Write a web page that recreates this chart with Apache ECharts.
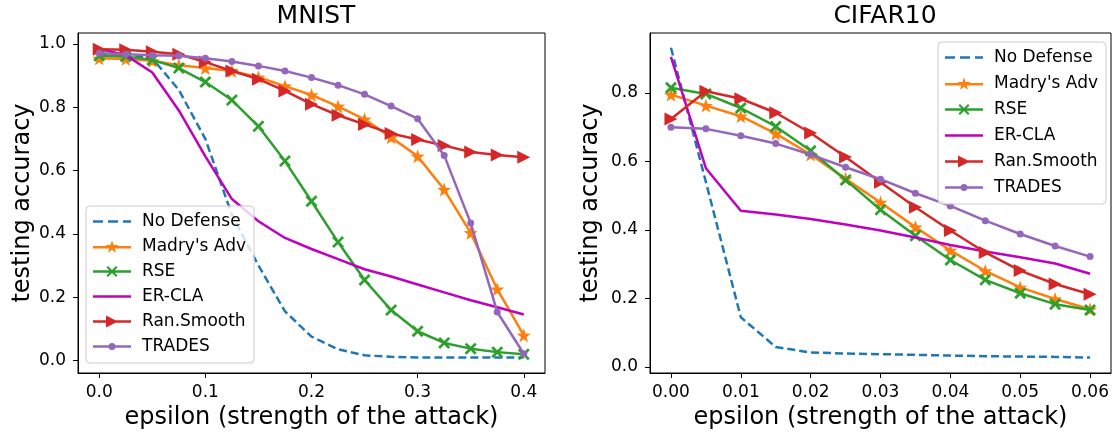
<!DOCTYPE html>
<html><head><meta charset="utf-8">
<script src="https://cdn.jsdelivr.net/npm/echarts@6/dist/echarts.min.js"></script>
<style>html,body{margin:0;padding:0;background:#fff}#c{width:1119px;height:438px}</style>
</head><body><div id="c"></div>
<script>
// ---- data ----
const seriesNames = ["No Defense", "Madry's Adv", "RSE", "ER-CLA", "Ran.Smooth", "TRADES"];
const mnistEps = [0, 0.025, 0.05, 0.075, 0.1, 0.125, 0.15, 0.175, 0.2, 0.225, 0.25, 0.275, 0.3, 0.325, 0.35, 0.375, 0.4];
const mnistNoDefense = [0.97, 0.965, 0.955, 0.855, 0.70, 0.46, 0.30, 0.155, 0.075, 0.035, 0.016, 0.011, 0.009, 0.009, 0.009, 0.009, 0.009];
const mnistMadry = [0.955, 0.953, 0.947, 0.933, 0.924, 0.915, 0.895, 0.867, 0.839, 0.803, 0.762, 0.705, 0.645, 0.54, 0.403, 0.225, 0.079];
const mnistRSE = [0.963, 0.961, 0.95, 0.924, 0.88, 0.823, 0.74, 0.63, 0.503, 0.374, 0.254, 0.159, 0.092, 0.055, 0.037, 0.026, 0.019];
const mnistERCLA = [0.985, 0.965, 0.91, 0.79, 0.645, 0.51, 0.44, 0.387, 0.352, 0.32, 0.288, 0.265, 0.24, 0.215, 0.19, 0.168, 0.145];
const mnistRanSmooth = [0.984, 0.982, 0.976, 0.968, 0.943, 0.915, 0.889, 0.852, 0.81, 0.775, 0.746, 0.717, 0.698, 0.679, 0.659, 0.649, 0.642];
const mnistTRADES = [0.971, 0.968, 0.965, 0.963, 0.955, 0.945, 0.931, 0.915, 0.894, 0.87, 0.841, 0.804, 0.764, 0.648, 0.434, 0.153, 0.021];

const cifarEps = [0, 0.005, 0.01, 0.015, 0.02, 0.025, 0.03, 0.035, 0.04, 0.045, 0.05, 0.055, 0.06];
const cifarNoDefense = [0.932, 0.54, 0.145, 0.058, 0.042, 0.039, 0.037, 0.035, 0.033, 0.031, 0.030, 0.029, 0.027];
const cifarMadry = [0.795, 0.763, 0.732, 0.681, 0.62, 0.549, 0.48, 0.408, 0.34, 0.28, 0.232, 0.198, 0.168];
const cifarRSE = [0.815, 0.797, 0.756, 0.702, 0.631, 0.546, 0.459, 0.383, 0.312, 0.254, 0.215, 0.183, 0.166];
const cifarERCLA = [0.905, 0.58, 0.456, 0.445, 0.432, 0.416, 0.398, 0.378, 0.356, 0.337, 0.32, 0.302, 0.272];
const cifarRanSmooth = [0.724, 0.805, 0.783, 0.742, 0.683, 0.613, 0.539, 0.466, 0.398, 0.334, 0.281, 0.242, 0.212];
const cifarTRADES = [0.70, 0.695, 0.675, 0.652, 0.62, 0.583, 0.548, 0.507, 0.47, 0.427, 0.388, 0.353, 0.322];

const mnistXTicks = [0, 0.1, 0.2, 0.3, 0.4];
const mnistYTicks = [0, 0.2, 0.4, 0.6, 0.8, 1.0];
const cifarXTicks = [0, 0.01, 0.02, 0.03, 0.04, 0.05, 0.06];
const cifarYTicks = [0, 0.2, 0.4, 0.6, 0.8];

// ---- styles ----
const FONT = 'DejaVu Sans';
const colors = ['#1f77b4', '#ff7f0e', '#2ca02c', '#bf00bf', '#d62728', '#9467bd'];

function starPts(cx, cy, R, r) {
  const p = [];
  for (let k = 0; k < 10; k++) {
    const a = (-90 + k * 36) * Math.PI / 180;
    const rr = k % 2 === 0 ? R : r;
    p.push((cx + rr * Math.cos(a)).toFixed(2) + ',' + (cy + rr * Math.sin(a)).toFixed(2));
  }
  return 'M' + p.join(' L') + ' Z';
}
function xPts(cx, cy, s, d) {
  const p = [[cx - s, cy - s + d], [cx - s + d, cy - s], [cx, cy - d], [cx + s - d, cy - s], [cx + s, cy - s + d], [cx + d, cy],
             [cx + s, cy + s - d], [cx + s - d, cy + s], [cx, cy + d], [cx - s + d, cy + s], [cx - s, cy + s - d], [cx - d, cy]];
  return 'M' + p.map(q => q[0].toFixed(2) + ',' + q[1].toFixed(2)).join(' L') + ' Z';
}
const STAR = 'path://' + starPts(0, 0, 10, 4);
const XMARK = 'path://' + xPts(0, 0, 5, 1.6);
const TRI = 'path://M0,0 L10,5 L0,10 Z';
const symbols = ['none', STAR, XMARK, 'none', TRI, 'circle'];
const symSizes = [0, 14, 12, 0, 13, 7];

// legend icons (line sample + marker), 38 px wide
const LW = 38, LC = 7;
const lineRect = 'M0,5.75 L38,5.75 L38,8.25 L0,8.25 Z';
const legendIcons = [
  'path://M0,5.75 L10,5.75 L10,8.25 L0,8.25 Z M15,5.75 L25,5.75 L25,8.25 L15,8.25 Z M30,5.75 L38,5.75 L38,8.25 L30,8.25 Z',
  'path://' + lineRect + ' ' + starPts(19, LC, 6.8, 2.7),
  'path://' + lineRect + ' ' + xPts(19, LC, 5.5, 1.5),
  'path://' + lineRect,
  'path://' + lineRect + ' M13,1 L25,7 L13,13 Z',
  'path://' + lineRect + ' M22.5,7 A3.5,3.5 0 1 1 15.5,7 A3.5,3.5 0 1 1 22.5,7 Z'
];

function zip(xs, ys) { return xs.map((x, i) => [x, ys[i]]); }

function makeSeries(idx, eps, lists) {
  return lists.map((vals, i) => ({
    name: seriesNames[i],
    type: 'line',
    xAxisIndex: idx, yAxisIndex: idx,
    data: zip(eps, vals),
    symbol: symbols[i] === 'none' ? 'circle' : symbols[i],
    showSymbol: symbols[i] !== 'none',
    symbolSize: symSizes[i],
    color: colors[i],
    itemStyle: { color: colors[i] },
    lineStyle: { color: colors[i], width: 2.5, type: i === 0 ? [8, 4] : 'solid' },
    emphasis: { disabled: true },
    animation: false,
    z: 2 + i * 0.01
  }));
}

function makeLegend(left, top, gap) {
  return {
    left: left, top: top, orient: 'vertical',
    data: seriesNames.map((n, i) => ({ name: n, icon: legendIcons[i] })),
    itemWidth: LW, itemHeight: 14, itemGap: gap,
    symbolKeepAspect: true,
    padding: [7, 8, 8, 7],
    backgroundColor: 'rgba(255,255,255,0.8)',
    borderColor: '#cccccc', borderWidth: 1, borderRadius: 4,
    itemStyle: { borderWidth: 0 },
    textStyle: { fontFamily: FONT, fontSize: 17, color: '#000', padding: [0, 0, 0, 6] },
    selectedMode: false,
    z: 10
  };
}

const axisCommon = {
  axisLine: { show: true, onZero: false, lineStyle: { color: '#000', width: 1 } },
  axisTick: { show: true, length: 5, lineStyle: { color: '#000', width: 1 } },
  splitLine: { show: false },
  nameTextStyle: { fontFamily: FONT, fontSize: 24, color: '#000' },
};
function xAx(idx, min, max, ticks, dec) {
  return Object.assign({}, axisCommon, {
    type: 'value', gridIndex: idx, min: min, max: max,
    name: 'epsilon (strength of the attack)', nameLocation: 'middle', nameGap: 33,
    axisTick: Object.assign({}, axisCommon.axisTick, { customValues: ticks }),
    axisLabel: { customValues: ticks, formatter: v => v.toFixed(dec), fontFamily: FONT, fontSize: 17, color: '#000', margin: 11 }
  });
}
function yAx(idx, min, max, ticks, gap) {
  return Object.assign({}, axisCommon, {
    type: 'value', gridIndex: idx, min: min, max: max,
    name: 'testing accuracy', nameLocation: 'middle', nameGap: gap,
    axisTick: Object.assign({}, axisCommon.axisTick, { customValues: ticks }),
    axisLabel: { customValues: ticks, formatter: v => v.toFixed(1), fontFamily: FONT, fontSize: 17, color: '#000', margin: 12 }
  });
}

const option = {
  backgroundColor: '#fff',
  animation: false,
  title: [
    { text: 'MNIST', left: 311, top: -1, textAlign: 'center', textStyle: { fontFamily: FONT, fontSize: 25, fontWeight: 'normal', color: '#000' } },
    { text: 'CIFAR10', left: 880, top: -1, textAlign: 'center', textStyle: { fontFamily: FONT, fontSize: 25, fontWeight: 'normal', color: '#000' } }
  ],
  grid: [
    { left: 78, right: 574, top: 33, bottom: 65, show: true, borderColor: '#000', borderWidth: 1 },
    { left: 650, right: 8, top: 33, bottom: 65, show: true, borderColor: '#000', borderWidth: 1 }
  ],
  xAxis: [
    xAx(0, -0.02, 0.42, mnistXTicks, 1),
    xAx(1, -0.003, 0.063, cifarXTicks, 2)
  ],
  yAxis: [
    yAx(0, -0.04, 1.035, mnistYTicks, 41),
    yAx(1, -0.018, 0.975, cifarYTicks, 47)
  ],
  legend: [makeLegend(86, 206, 8), makeLegend(938, 42, 9)],
  series: [].concat(
    makeSeries(0, mnistEps, [mnistNoDefense, mnistMadry, mnistRSE, mnistERCLA, mnistRanSmooth, mnistTRADES]),
    makeSeries(1, cifarEps, [cifarNoDefense, cifarMadry, cifarRSE, cifarERCLA, cifarRanSmooth, cifarTRADES])
  )
};
const chart = echarts.init(document.getElementById('c'), null, { renderer: 'canvas' });
chart.setOption(option);
</script></body></html>
